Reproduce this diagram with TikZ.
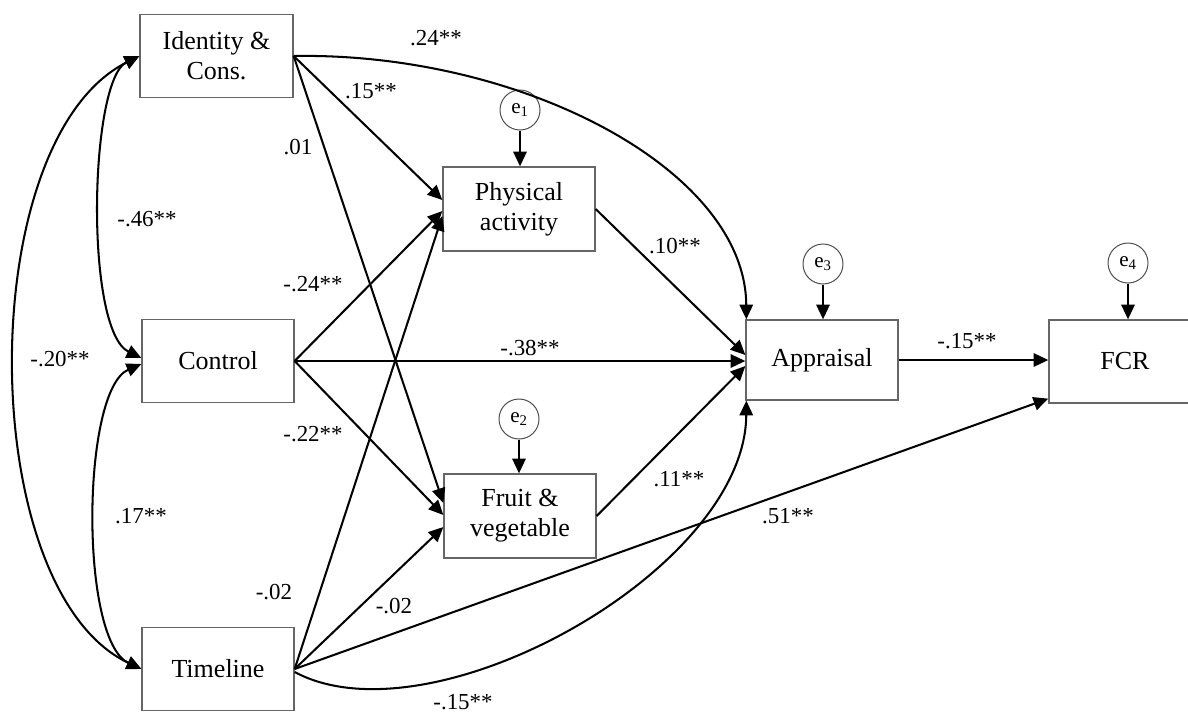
\documentclass[tikz,border=0pt]{standalone}
\usepackage{fontspec}
\setmainfont{Liberation Serif}
\usetikzlibrary{arrows.meta,calc}
\begin{document}
\begin{tikzpicture}[x=0.025cm,y=-0.025cm,
  box/.style={draw=black!60,line width=0.9pt,minimum width=3.8cm,minimum height=2.075cm,align=center,inner sep=0pt,font=\fontsize{18.5}{21.5}\selectfont},
  err/.style={draw=black!70,line width=0.7pt,circle,minimum size=1cm,inner sep=0pt,font=\fontsize{15}{17}\selectfont},
  lab/.style={inner sep=0pt,font=\fontsize{16.3}{19}\selectfont},
  tip/.tip={Triangle[length=10.5pt,width=9.5pt]},
  arr/.style={line width=1.45pt,-tip},
  darr/.style={line width=1.45pt,tip-tip}]
\useasboundingbox (0,0) rectangle (1188,713);
\clip (0,0) rectangle (1188,713);
% boxes
\node[box,minimum width=3.825cm] (ID) at (216.5,56) {Identity \&\\Cons.};
\node[box] (CTRL) at (218,361) {Control};
\node[box] (TL) at (218,669) {Timeline};
\node[box,minimum height=2.1cm] (PA) at (519,209) {Physical\\activity};
\node[box,minimum height=2.1cm] (FV) at (520,516) {Fruit \&\\vegetable};
\node[box,minimum height=2.0cm] (AP) at (822,360) {Appraisal};
\node[box] (FCR) at (1125,361.5) {FCR};
% error terms
\node[err] (e1) at (520,110) {e\textsubscript{1}};
\node[err] (e2) at (519,419) {e\textsubscript{2}};
\node[err] (e3) at (823,264) {e\textsubscript{3}};
\node[err] (e4) at (1128,263) {e\textsubscript{4}};
\draw[arr] (e1.south) -- (e1.south |- PA.north);
\draw[arr] (e2.south) -- (e2.south |- FV.north);
\draw[arr] (e3.south) -- (e3.south |- AP.north);
\draw[arr] (e4.south) -- (e4.south |- FCR.north);
% correlations
\draw[darr] (ID.west) .. controls ($(ID.west)+(-50,24)$) and ($(CTRL.west)+(-57,-31)$) .. ($(CTRL.west)+(0,-3)$);
\draw[darr] ($(CTRL.west)+(0,3)$) .. controls ($(CTRL.west)+(-60,29)$) and ($(TL.west)+(-62,-29)$) .. (TL.west);
\draw[darr] (ID.west) .. controls ($(ID.west)+(-167,84)$) and ($(TL.west)+(-167,-79)$) .. (TL.west);
% paths from Identity
\draw[arr] (ID.east) -- ($(PA.west)+(0,-9)$);
\draw[arr] (ID.east) -- ($(FV.west)+(0,-13)$);
\draw[arr] (ID.east) .. controls ($(ID.east)+(227,-4)$) and ($(AP.north west)+(0,-150)$) .. ($(AP.north west)+(1,0)$);
% paths from Control
\draw[arr] (CTRL.east) -- ($(PA.west)+(0,2)$);
\draw[arr] (CTRL.east) -- (CTRL.east -| AP.west);
\draw[arr] (CTRL.east) -- ($(FV.west)+(0,-1)$);
% paths from Timeline
\draw[arr] (TL.east) -- ($(PA.west)+(0,7)$);
\draw[arr] (TL.east) -- ($(FV.west)+(0,11)$);
\draw[arr] (TL.east) -- ($(FCR.south west)+(0,-5)$);
\draw[arr] ($(TL.east)+(0,3)$) .. controls ($(TL.east)+(136,76)$) and ($(AP.south west)+(0,170)$) .. ($(AP.south west)+(1,0)$);
% mediators
\draw[arr] (PA.east) -- ($(AP.west)+(0,-5)$);
\draw[arr] (FV.east) -- ($(AP.west)+(0,6)$);
\draw[arr] (AP.east) -- (AP.east -| FCR.west);
% labels
\node[lab] (l24) at (436,38) {.24**};
\node[lab] (l15a) at (371,91) {.15**};
\node[lab] (l01) at (298,147) {.01};
\node[lab] (l46) at (147,219) {-.46**};
\node[lab] (l24n) at (313,284) {-.24**};
\node[lab] (l20) at (60,359) {-.20**};
\node[lab] (l22) at (313,434) {-.22**};
\node[lab] (l17) at (141,516) {.17**};
\node[lab] (l02a) at (274,592) {-.02};
\node[lab] (l02b) at (394,606) {-.02};
\node[lab] (l15b) at (463,702) {-.15**};
\node[lab] (l10) at (675,246) {.10**};
\node[lab] (l38) at (530,348) {-.38**};
\node[lab] (l11) at (679,479) {.11**};
\node[lab] (l51) at (788,516) {.51**};
\node[lab] (l15c) at (967,341) {-.15**};
\end{tikzpicture}
\end{document}
